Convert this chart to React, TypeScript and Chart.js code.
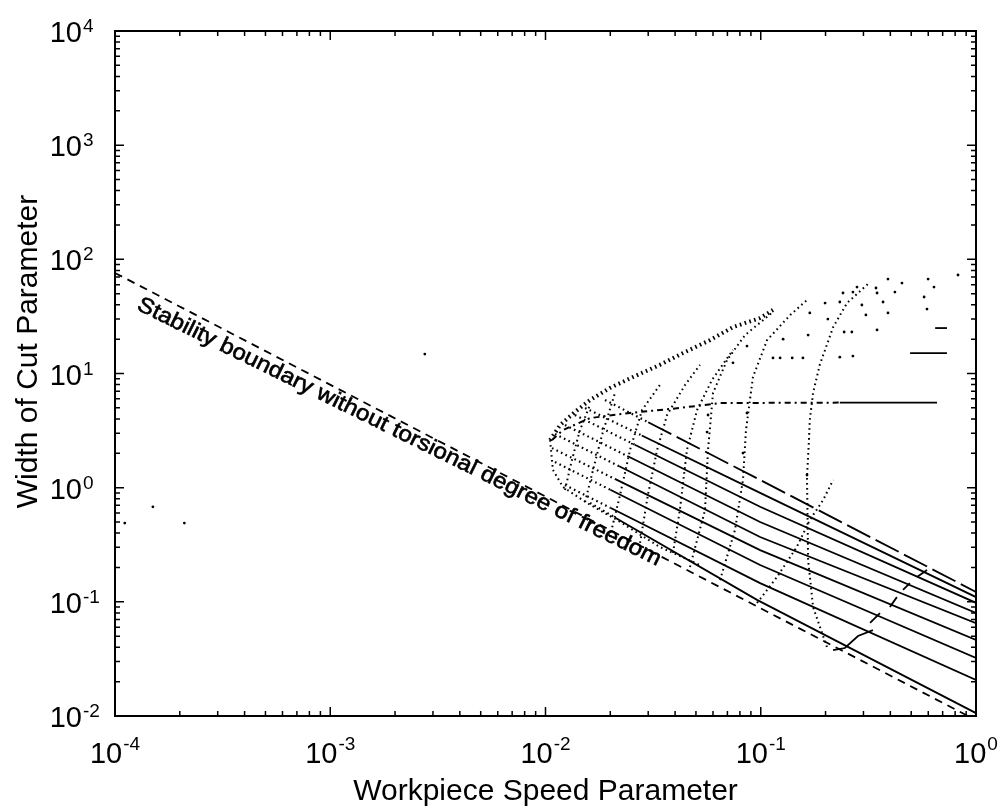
import React, { useEffect, useRef } from "react";
import { Chart, registerables } from "chart.js";
Chart.register(...registerables);

const xTickExps = [-4, -3, -2, -1, 0];
const yTickExps = [-2, -1, 0, 1, 2, 3, 4];
const xTitle = "Workpiece Speed Parameter";
const yTitle = "Width of Cut Parameter";
const annotationText = "Stability boundary without torsional degree of freedom";

// dashed stability boundary (no torsional dof)
const boundary = [[1e-4, 76], [1, 0.0092]];

// solid lines of the stability bundle (first point: where it leaves the lens)
const lineA = [[0.0189, 5.86], [0.0993, 1.17], [1, 0.122]];
const lineB = [[0.01527, 4.99], [0.0993, 0.9], [1, 0.11]];
const lineC = [[0.0137, 4.33], [0.0993, 0.68], [1, 0.098]];
const lineD = [[0.01232, 3.54], [0.0993, 0.5], [1, 0.08]];
const lineE = [[0.01107, 2.95], [0.0993, 0.37], [1, 0.065]];
const lineF = [[0.01072, 2.22], [0.0993, 0.284], [1, 0.0463]];
const lineG = [[0.01107, 1.68], [0.0993, 0.21], [1, 0.0322]];
const lineH = [[0.01232, 1.055], [0.0993, 0.146], [1, 0.0207]];
const lineI = [[0.0161, 0.734], [0.0961, 0.104], [1, 0.0106]];
// x where each bundle line turns from dotted to solid
const solidFrom = [0.03, 0.028, 0.026, 0.024, 0.022, 0.021, 0.02, 0.02, 0.021];

const step1 = [[0.2167, 0.0378], [0.246, 0.0394], [0.283, 0.0502], [0.332, 0.0566]];
const step2 = [[0.322, 0.0653], [0.358, 0.0798]];
const step3 = [[0.398, 0.0901], [0.429, 0.11]];
const step4 = [[0.458, 0.127], [0.493, 0.146]];
const step5 = [[0.532, 0.165], [0.592, 0.19]];

// horizontal branch near y = 5.5
const branchCurve = [[0.01072, 2.61], [0.01206, 3.2], [0.0161, 4.07], [0.0247, 4.51], [0.0421, 4.99], [0.0647, 5.51], [0.233, 5.56]];
const branchSolid = [[0.233, 5.56], [0.659, 5.56]];
const short15 = [[0.494, 15.1], [0.733, 15.1]];
const short25 = [[0.646, 25.0], [0.733, 25.0]];

// dotted lobes
const ridge = [[0.0105, 2.61], [0.0117, 3.54], [0.0137, 4.6], [0.0161, 5.86], [0.0199, 7.46], [0.0255, 9.32], [0.034, 11.9], [0.0435, 15.1], [0.0581, 19.6], [0.0743, 25.5], [0.0993, 30.6], [0.114, 36.0]];
const lowerEdge = [[0.0105, 2.61], [0.01083, 1.43], [0.01206, 1.013], [0.0156, 0.734], [0.0215, 0.521], [0.034, 0.302], [0.0522, 0.21]];
const lobe0a = [[0.01232, 0.955], [0.01327, 1.75], [0.01446, 3.2], [0.0161, 5.3]];
const lobe0b = [[0.01527, 0.749], [0.01663, 1.43], [0.0183, 2.89], [0.02103, 6.75]];
const lobeA = [[0.0199, 0.37], [0.0222, 0.862], [0.0247, 2.14], [0.0281, 4.79], [0.034, 7.93]];
const lobeB = [[0.0275, 0.328], [0.0299, 0.862], [0.033, 2.14], [0.0367, 4.33], [0.0445, 7.93], [0.0522, 11.9]];
const lobeC = [[0.0391, 0.268], [0.0421, 0.637], [0.0454, 2.14], [0.0506, 4.79], [0.0594, 8.8], [0.0743, 16.1]];
const lobeD = [[0.0469, 0.202], [0.0551, 0.637], [0.0569, 2.14], [0.06, 6.75], [0.0697, 13.1], [0.0845, 21.7], [0.114, 34.6]];
const lobeE = [[0.0647, 0.155], [0.0759, 0.426], [0.0827, 1.17], [0.0854, 3.2], [0.092, 9.32], [0.107, 19.6], [0.137, 32.5], [0.164, 44.0]];
const lobeF = [[0.0961, 0.0977], [0.119, 0.165], [0.147, 0.302], [0.169, 0.521], [0.195, 0.78], [0.217, 1.17]];
const lobeG = [[0.203, 0.0402], [0.175, 0.0901], [0.166, 0.233], [0.164, 1.265], [0.1675, 2.61], [0.169, 3.91], [0.175, 6.75], [0.188, 11.9], [0.217, 25.5], [0.2516, 41.4], [0.322, 63.3]];

// scattered points
const scatterX = [0.39, 0.453, 0.599, 0.825, 0.638, 0.42, 0.574, 0.592, 0.343, 0.347, 0.37, 0.39, 0.308, 0.347, 0.295, 0.28, 0.241, 0.268, 0.233, 0.244, 0.265, 0.233, 0.268, 0.199, 0.205, 0.169, 0.166, 0.127, 0.123, 0.14, 0.157, 0.0569, 0.0563, 0.0863, 0.0827, 0.0743, 0.0863, 0.114, 0.164, 1.11e-4, 1.5e-4, 2.1e-4, 2.75e-3];
const scatterY = [67.2, 62.0, 67.2, 72.9, 57.2, 51.7, 46.8, 36.7, 56.1, 50.7, 42.3, 33.9, 32.6, 24.1, 39.8, 57.2, 50.7, 51.7, 42.3, 23.1, 23.1, 13.9, 14.2, 41.4, 30.0, 33.9, 21.7, 20.0, 13.7, 13.7, 13.7, 4.33, 3.07, 4.51, 2.01, 12.4, 17.4, 13.7, 1.29, 0.49, 0.68, 0.49, 14.8];

const pts = (a: number[][]) => a.map(([x, y]) => ({ x, y }));

// split a polyline (log-log) at x = xs into [before, after]
const splitAt = (a: number[][], xs: number) => {
  const before: number[][] = [];
  const after: number[][] = [];
  for (let i = 0; i < a.length; i++) {
    if (a[i][0] <= xs) before.push(a[i]);
    if (i + 1 < a.length && a[i][0] < xs && a[i + 1][0] > xs) {
      const t = (Math.log(xs) - Math.log(a[i][0])) / (Math.log(a[i + 1][0]) - Math.log(a[i][0]));
      const ly = Math.log(a[i][1]) + t * (Math.log(a[i + 1][1]) - Math.log(a[i][1]));
      const p = [xs, Math.exp(ly)];
      before.push(p);
      after.push(p);
    }
    if (a[i][0] > xs) after.push(a[i]);
  }
  return [before, after];
};

const FONT = '"Liberation Sans", Arial, Helvetica, sans-serif';

const axesPlugin = {
  id: "matlabAxes",
  afterDatasetsDraw(chart: any) {
    const { ctx, chartArea: a, scales } = chart;
    const xs = scales.x;
    const ys = scales.y;
    ctx.save();
    ctx.strokeStyle = "#000";
    ctx.fillStyle = "#000";
    ctx.lineWidth = 2;
    ctx.strokeRect(a.left, a.top, a.right - a.left, a.bottom - a.top);
    ctx.lineWidth = 1.5;
    ctx.beginPath();
    for (let e = -4; e <= 0; e++) {
      for (let m = 1; m <= 9; m++) {
        const v = m * Math.pow(10, e);
        if (v > 1.0001) break;
        const px = xs.getPixelForValue(v);
        const len = m === 1 ? 9 : 5;
        ctx.moveTo(px, a.bottom);
        ctx.lineTo(px, a.bottom - len);
        ctx.moveTo(px, a.top);
        ctx.lineTo(px, a.top + len);
      }
    }
    for (let e = -2; e <= 4; e++) {
      for (let m = 1; m <= 9; m++) {
        const v = m * Math.pow(10, e);
        if (v > 10000.1) break;
        const py = ys.getPixelForValue(v);
        const len = m === 1 ? 9 : 5;
        ctx.moveTo(a.left, py);
        ctx.lineTo(a.left + len, py);
        ctx.moveTo(a.right, py);
        ctx.lineTo(a.right - len, py);
      }
    }
    ctx.stroke();

    // tick labels
    ctx.textBaseline = "alphabetic";
    for (const e of yTickExps) {
      const py = ys.getPixelForValue(Math.pow(10, e));
      ctx.font = `29px ${FONT}`;
      ctx.textAlign = "right";
      ctx.fillText("10", a.left - 33, py + 11);
      ctx.font = `19px ${FONT}`;
      ctx.textAlign = "left";
      ctx.fillText(String(e), a.left - 32, py + 1);
    }
    for (const e of xTickExps) {
      const px = xs.getPixelForValue(Math.pow(10, e));
      ctx.font = `29px ${FONT}`;
      const w1 = ctx.measureText("10").width;
      ctx.font = `19px ${FONT}`;
      const w2 = ctx.measureText(String(e)).width;
      const start = px - (w1 + 1 + w2) / 2;
      ctx.textAlign = "left";
      ctx.font = `29px ${FONT}`;
      ctx.fillText("10", start, a.bottom + 47);
      ctx.font = `19px ${FONT}`;
      ctx.fillText(String(e), start + w1 + 1, a.bottom + 34);
    }

    // axis titles
    ctx.font = `30px ${FONT}`;
    ctx.textAlign = "center";
    ctx.fillText(xTitle, (a.left + a.right) / 2, 800);
    ctx.save();
    ctx.translate(37, (a.top + a.bottom) / 2 - 22);
    ctx.rotate(-Math.PI / 2);
    ctx.fillText(yTitle, 0, 0);
    ctx.restore();

    // annotation along dashed line
    const x0 = xs.getPixelForValue(1.25e-4);
    const y0 = ys.getPixelForValue(36.7);
    const x1 = xs.getPixelForValue(0.033);
    const y1 = ys.getPixelForValue(0.206);
    const ang = Math.atan2(y1 - y0, x1 - x0);
    const len = Math.hypot(x1 - x0, y1 - y0);
    ctx.font = `22px ${FONT}`;
    const tw = ctx.measureText(annotationText).width;
    ctx.translate(x0, y0);
    ctx.rotate(ang);
    ctx.scale(len / tw, 1);
    ctx.textAlign = "left";
    ctx.lineWidth = 0.6;
    ctx.fillText(annotationText, 0, 0);
    ctx.strokeText(annotationText, 0, 0);
    ctx.restore();
  },
};

export default function App() {
  const ref = useRef<HTMLCanvasElement | null>(null);
  useEffect(() => {
    const prevMargin = document.body.style.margin;
    document.body.style.margin = "0";
    const solid = (d: number[][], dash: number[] = []) => ({ data: pts(d), showLine: true, borderColor: "#000", borderWidth: 1.8, borderDash: dash, pointRadius: 0, fill: false });
    const dotted = (d: number[][], w = 2) => ({ data: pts(d), showLine: true, borderColor: "#000", borderWidth: w, borderDash: [1.6, 3.4], pointRadius: 0, fill: false });
    const bundle = [lineA, lineB, lineC, lineD, lineE, lineF, lineG, lineH, lineI];
    const bundleSets: any[] = [];
    bundle.forEach((l, i) => {
      const [b, s] = splitAt(l, solidFrom[i]);
      bundleSets.push(dotted(b, 2.2));
      bundleSets.push(solid(s, i === 0 ? [26, 6] : []));
    });
    const datasets: any[] = [
      { data: pts(boundary), showLine: true, borderColor: "#000", borderWidth: 1.8, borderDash: [8, 6], pointRadius: 0 },
      ...bundleSets,
      ...[step1, step2, step3, step4, step5].map((d) => solid(d)),
      { data: pts(branchCurve), showLine: true, borderColor: "#000", borderWidth: 2, borderDash: [6, 4, 2, 4], pointRadius: 0 },
      solid(branchSolid),
      solid(short15),
      solid(short25),
      dotted(ridge, 4),
      dotted(lowerEdge),
      ...[lobe0a, lobe0b, lobeA, lobeB, lobeC, lobeD, lobeE, lobeF, lobeG].map((d) => dotted(d)),
      { data: scatterX.map((x, i) => ({ x, y: scatterY[i] })), showLine: false, pointRadius: 1.4, pointBackgroundColor: "#000", pointBorderWidth: 0 },
    ];
    const chart = new Chart(ref.current as HTMLCanvasElement, {
      type: "scatter",
      data: { datasets },
      options: {
        animation: false,
        responsive: false,
        devicePixelRatio: 1,
        layout: { padding: { left: 115, right: 25, top: 31, bottom: 91 } },
        plugins: { legend: { display: false }, tooltip: { enabled: false } },
        scales: {
          x: { type: "logarithmic", min: 1e-4, max: 1, display: false },
          y: { type: "logarithmic", min: 1e-2, max: 1e4, display: false },
        },
      },
      plugins: [axesPlugin],
    });
    return () => {
      chart.destroy();
      document.body.style.margin = prevMargin;
    };
  }, []);
  return (
    <div style={{ position: "fixed", left: 0, top: 0, width: 1001, height: 807, background: "#fff" }}>
      <canvas ref={ref} width={1001} height={807} style={{ width: 1001, height: 807 }} />
    </div>
  );
}
